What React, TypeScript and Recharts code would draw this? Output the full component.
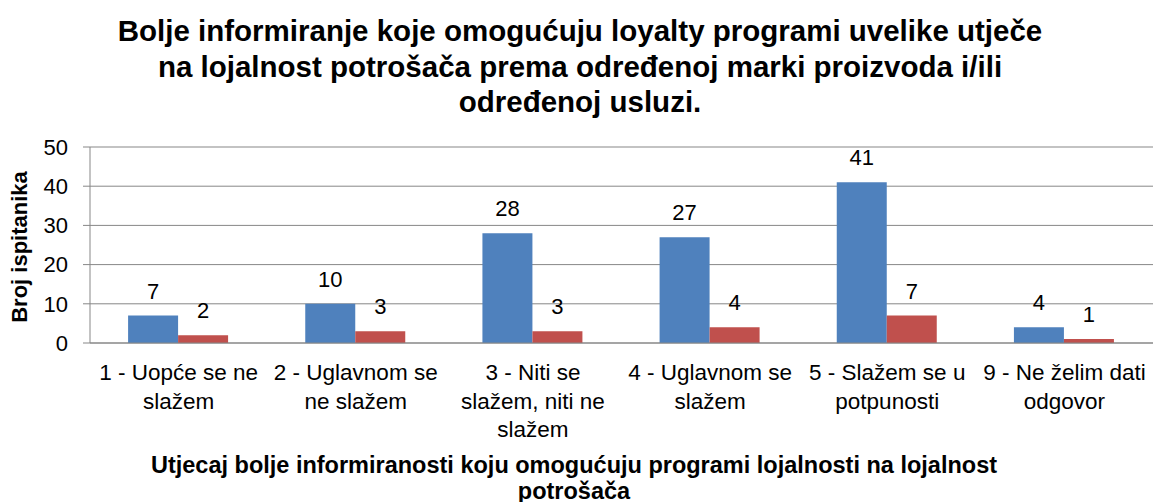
import React from 'react';
import { BarChart, Bar, XAxis, YAxis, CartesianGrid, LabelList } from 'recharts';

const categories = [
  '1 - Uopće se ne|slažem',
  '2 - Uglavnom se|ne slažem',
  '3 - Niti se|slažem, niti ne|slažem',
  '4 - Uglavnom se|slažem',
  '5 - Slažem se u|potpunosti',
  '9 - Ne želim dati|odgovor',
];
const seriesBlue = [7, 10, 28, 27, 41, 4];
const seriesRed = [2, 3, 3, 4, 7, 1];
const yTicks = [0, 10, 20, 30, 40, 50];

const titleLines = [
  'Bolje informiranje koje omogućuju loyalty programi uvelike utječe',
  'na lojalnost potrošača prema određenoj marki proizvoda i/ili',
  'određenoj usluzi.',
];
const xTitleLines = [
  'Utjecaj bolje informiranosti koju omogućuju programi lojalnosti na lojalnost',
  'potrošača',
];
const yTitle = 'Broj ispitanika';

const FONT = 'Arial, "Liberation Sans", sans-serif';

const data = categories.map((name, i) => ({ name, a: seriesBlue[i], b: seriesRed[i] }));

const CategoryTick = ({ x, y, payload }: any) => {
  const lines = String(payload.value).split('|');
  return (
    <text x={x} y={y} textAnchor="middle" fontSize={22.5} fill="#000" fontFamily={FONT}>
      {lines.map((l, i) => (
        <tspan key={i} x={x} dy={i === 0 ? 37 : 28.5}>{l}</tspan>
      ))}
    </text>
  );
};

const App: React.FC = () => {
  return (
    <div style={{ position: 'absolute', left: 0, top: 0, width: 1154, height: 502, background: '#fff', fontFamily: FONT }}>
      <div style={{ position: 'absolute', left: 30, width: 1100, top: 13, textAlign: 'center', fontWeight: 'bold', fontSize: 29.5, lineHeight: '35.5px', color: '#000' }}>
        {titleLines.map((t, i) => <div key={i}>{t}</div>)}
      </div>
      <BarChart
        width={1154}
        height={502}
        data={data}
        margin={{ top: 147, right: 1, bottom: 59, left: 0 }}
        barCategoryGap="21.5%"
        barGap={0}
      >
        <CartesianGrid vertical={false} stroke="#878787" strokeWidth={1} />
        <XAxis
          dataKey="name"
          tick={<CategoryTick />}
          tickLine={false}
          tickSize={0}
          tickMargin={0}
          axisLine={{ stroke: '#878787' }}
          interval={0}
          height={100}
        />
        <YAxis
          domain={[0, 50]}
          ticks={yTicks}
          width={90}
          tickSize={7}
          tickMargin={15}
          tickLine={{ stroke: '#878787' }}
          axisLine={{ stroke: '#878787' }}
          tick={{ fontSize: 22, fill: '#000', fontFamily: FONT }}
        />
        <Bar dataKey="a" fill="#4F81BD" isAnimationActive={false}>
          <LabelList dataKey="a" position="top" offset={17} fontSize={22} fill="#000" fontFamily={FONT} />
        </Bar>
        <Bar dataKey="b" fill="#C0504D" isAnimationActive={false}>
          <LabelList dataKey="b" position="top" offset={17} fontSize={22} fill="#000" fontFamily={FONT} />
        </Bar>
      </BarChart>
      <div style={{ position: 'absolute', left: 20, top: 247, transform: 'translate(-50%, -50%) rotate(-90deg)', fontWeight: 'bold', fontSize: 22, whiteSpace: 'nowrap', color: '#000' }}>
        {yTitle}
      </div>
      <div style={{ position: 'absolute', left: 24, width: 1100, top: 452, textAlign: 'center', fontWeight: 'bold', fontSize: 23.5, lineHeight: '26px', color: '#000' }}>
        {xTitleLines.map((t, i) => <div key={i}>{t}</div>)}
      </div>
    </div>
  );
};

export default App;
